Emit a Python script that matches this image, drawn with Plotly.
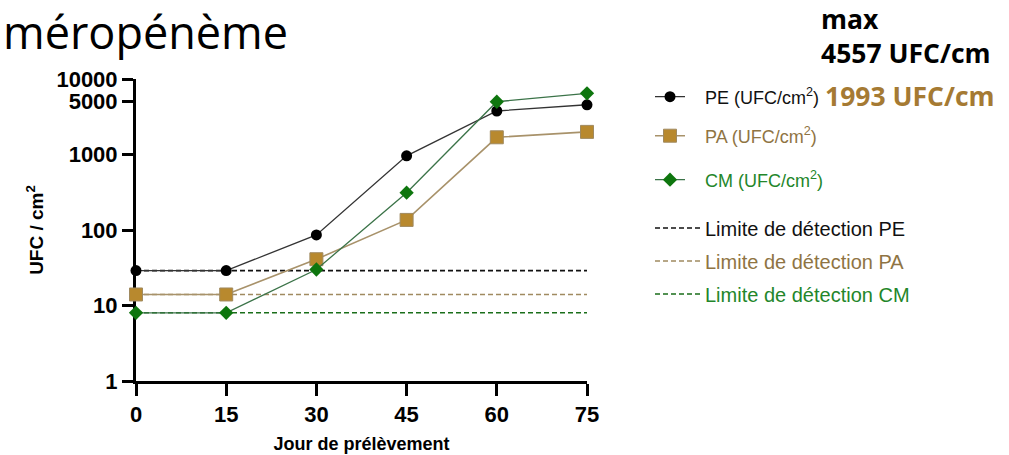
import plotly.graph_objects as go

days = [0, 15, 30, 45, 60, 75]
pe_vals = [29, 29, 86, 960, 3770, 4557]
pa_vals = [14, 14, 41, 136, 1690, 1993]
cm_vals = [8, 8, 30, 312, 5000, 6460]
limit_pe = 29
limit_pa = 14
limit_cm = 8
y_tickvals = [1, 10, 100, 1000, 5000, 10000]
y_ticktext = ["1", "10", "100", "1000", "5000", "10000"]
x_tickvals = [0, 15, 30, 45, 60, 75]

W, H = 1009, 455
L, R, T, B = 136, 587, 79, 381


def px(x):
    return (x - L) / (R - L)


def py(y):
    return (B - y) / (B - T)


C_PE = "#000000"
C_PE_LINE = "#333333"
C_PA_LINE = "#a8926a"
C_PA_MK = "#b8892e"
C_PA_TXT = "#8f7443"
C_CM_LINE = "#3b7348"
C_CM_MK = "#0e760e"
C_CM_TXT = "#23862a"
NB = "\u00a0"

fig = go.Figure()

# detection limits (drawn first, under the series)
fig.add_trace(go.Scatter(x=[days[0], days[-1]], y=[limit_pe, limit_pe], mode="lines",
                         line=dict(color="#111111", width=1.6, dash="5px,3px"),
                         name="Limite de détection PE", legend="legend4", cliponaxis=False))
fig.add_trace(go.Scatter(x=[days[0], days[-1]], y=[limit_pa, limit_pa], mode="lines",
                         line=dict(color="#a08a60", width=1.6, dash="5px,3px"),
                         name="Limite de détection PA", legend="legend5", cliponaxis=False))
fig.add_trace(go.Scatter(x=[days[0], days[-1]], y=[limit_cm, limit_cm], mode="lines",
                         line=dict(color="#1a6e1a", width=1.6, dash="5px,3px"),
                         name="Limite de détection CM", legend="legend6", cliponaxis=False))

fig.add_trace(go.Scatter(x=days, y=pe_vals, mode="lines+markers",
                         line=dict(color=C_PE_LINE, width=1.3),
                         marker=dict(symbol="circle", size=11, color=C_PE),
                         name=NB * 3 + "PE (UFC/cm<sup>2</sup>)", legend="legend", cliponaxis=False))
fig.add_trace(go.Scatter(x=days, y=pa_vals, mode="lines+markers",
                         line=dict(color=C_PA_LINE, width=1.6),
                         marker=dict(symbol="square", size=13, color=C_PA_MK,
                                     line=dict(color="#a08a60", width=1)),
                         name=NB * 3 + "PA (UFC/cm<sup>2</sup>)", legend="legend2", cliponaxis=False))
fig.add_trace(go.Scatter(x=days, y=cm_vals, mode="lines+markers",
                         line=dict(color=C_CM_LINE, width=1.3),
                         marker=dict(symbol="diamond", size=11, color=C_CM_MK),
                         name=NB * 3 + "CM (UFC/cm<sup>2</sup>)", legend="legend3", cliponaxis=False))

FAM = "Liberation Sans, Arial, sans-serif"


def leg(ypix, color, size, itemwidth=30):
    return dict(x=px(650), y=py(ypix), xanchor="left", yanchor="middle",
                bgcolor="rgba(0,0,0,0)", borderwidth=0,
                font=dict(family=FAM, size=size, color=color), itemwidth=itemwidth,
                tracegroupgap=0)


fig.update_layout(
    width=W, height=H,
    margin=dict(l=L, r=W - R, t=T, b=H - B, autoexpand=False),
    paper_bgcolor="white", plot_bgcolor="white",
    showlegend=True,
    legend=leg(97, "#111111", 18),
    legend2=leg(136, C_PA_TXT, 18),
    legend3=leg(180, C_CM_TXT, 18),
    legend4=leg(228, "#111111", 20, 45),
    legend5=leg(261, C_PA_TXT, 20, 45),
    legend6=leg(294, C_CM_TXT, 20, 45),
)

axfont = dict(family=FAM, size=22, color="black", weight="bold")
fig.update_xaxes(range=[0, 75], tickvals=x_tickvals, ticktext=[str(v) for v in x_tickvals],
                 showline=True, linecolor="black", linewidth=3, ticks="outside",
                 ticklen=12, tickwidth=3, tickcolor="black", showgrid=False, zeroline=False,
                 tickfont=axfont, layer="below traces", automargin=False,
                 title=dict(text="Jour de prélèvement", standoff=11,
                            font=dict(family=FAM, size=18, color="black", weight="bold")))
fig.update_yaxes(type="log", range=[0, 4], tickvals=y_tickvals, ticktext=y_ticktext,
                 showline=True, linecolor="black", linewidth=3, ticks="outside",
                 ticklen=11, tickwidth=3, tickcolor="black", showgrid=False, zeroline=False,
                 tickfont=axfont, layer="below traces", automargin=False,
                 title=dict(text="UFC / cm<sup>2</sup>", standoff=8,
                            font=dict(family=FAM, size=19, color="black", weight="bold")))

fig.add_annotation(text="méropénème", xref="paper", yref="paper", x=px(2), y=py(0),
                   xanchor="left", yanchor="top", showarrow=False, borderpad=0,
                   font=dict(family="Open Sans, sans-serif", size=45, color="black"))
TF = "Open Sans, sans-serif"
fig.add_annotation(text="<b>max</b><br><b>4557 UFC/cm</b>", xref="paper", yref="paper",
                   x=px(820), y=py(0), align="left",
                   xanchor="left", yanchor="top", showarrow=False, borderpad=0,
                   font=dict(family=TF, size=26.5, color="black"))
fig.add_annotation(text="<b>1993 UFC/cm</b>", xref="paper", yref="paper", x=px(823), y=py(96),
                   xanchor="left", yanchor="middle", showarrow=False,
                   font=dict(family=TF, size=26.5, color="#a57a33"))

fig.write_html("out.html")
